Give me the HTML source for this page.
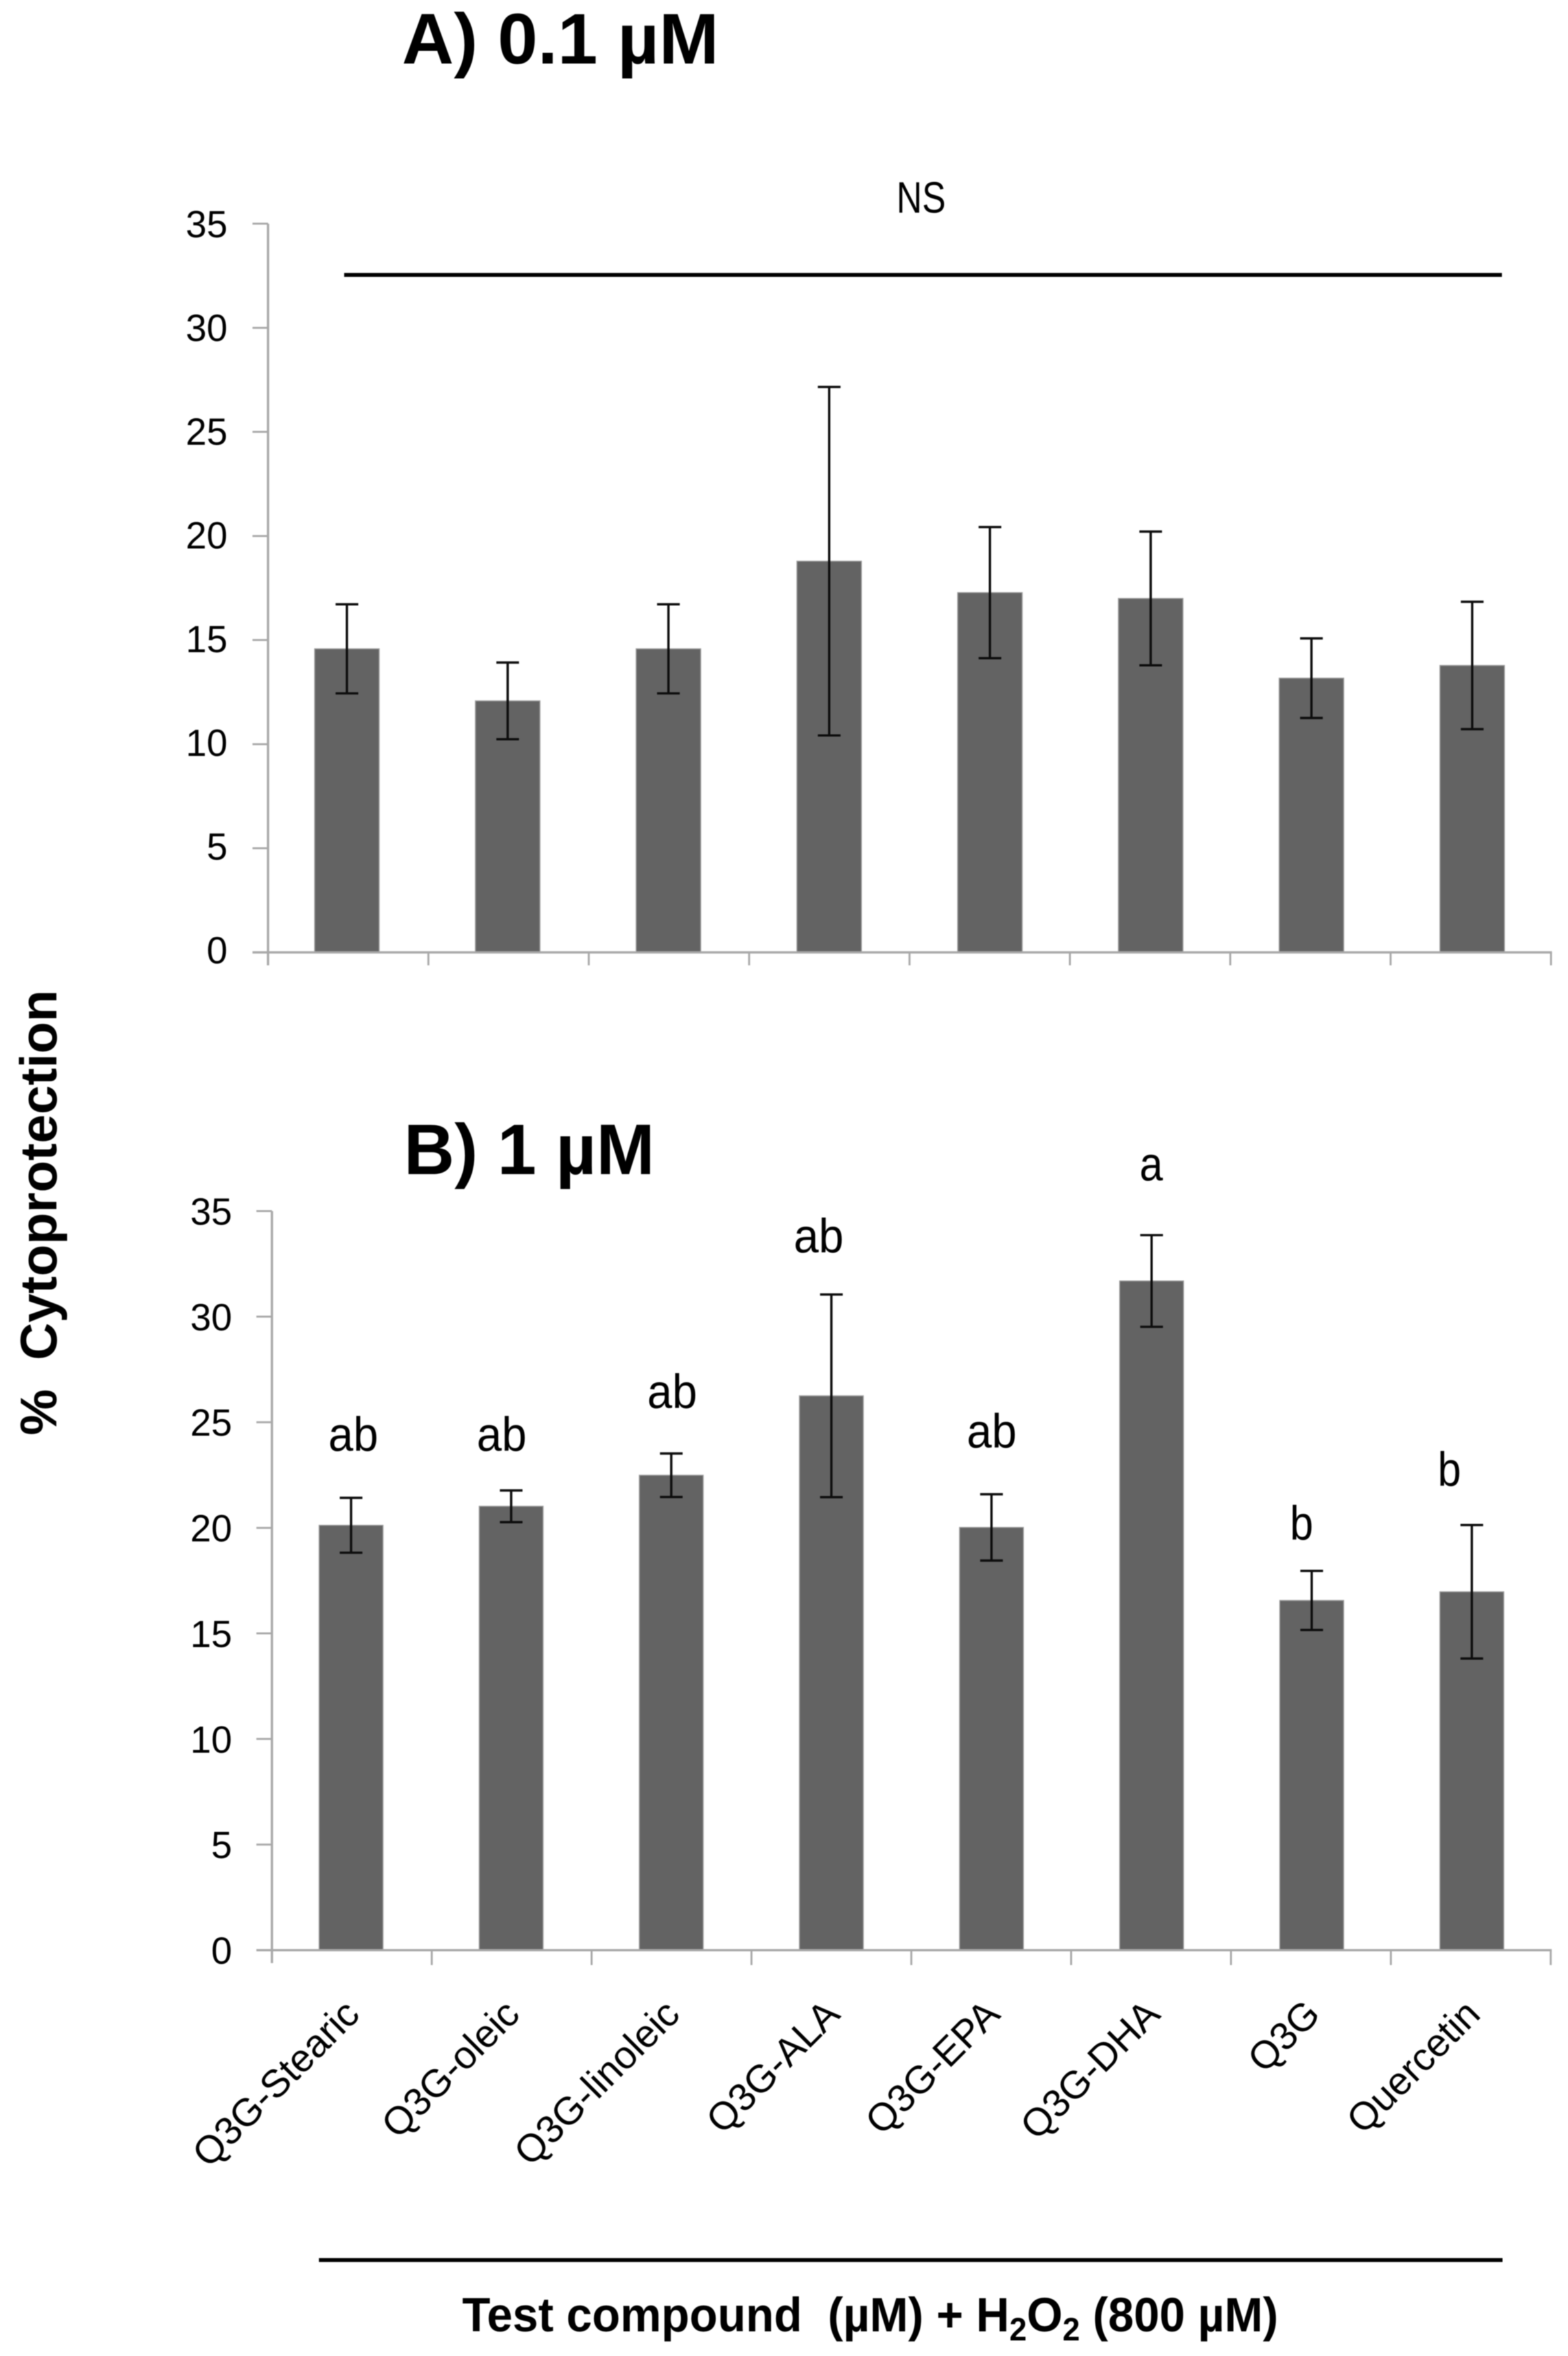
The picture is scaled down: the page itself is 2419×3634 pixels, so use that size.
<!DOCTYPE html>
<html lang="en">
<head>
<meta charset="utf-8">
<title>Cytoprotection of test compounds</title>
<style>
html,body{margin:0;padding:0;background:#fff;}
body{width:2419px;height:3634px;overflow:hidden;}
svg{display:block;filter:blur(0.7px);}
text{font-family:"Liberation Sans",sans-serif;fill:#000;}
.b{font-weight:bold;}
</style>
</head>
<body>
<svg id="figure" xmlns="http://www.w3.org/2000/svg" width="2419" height="3634" viewBox="0 0 2419 3634">
  <rect x="0" y="0" width="2419" height="3634" fill="#ffffff"/>
  <text class="b" x="620" y="98" font-size="110" textLength="489" lengthAdjust="spacingAndGlyphs">A) 0.1 µM</text>
  <text class="b" x="623" y="1811" font-size="110" textLength="387" lengthAdjust="spacingAndGlyphs">B) 1 µM</text>
  <text x="1383" y="328" font-size="68" textLength="76" lengthAdjust="spacingAndGlyphs">NS</text>
  <line x1="531" y1="424" x2="2317" y2="424" stroke="#000" stroke-width="6"/>
  <text class="b" transform="translate(87,2214) rotate(-90)" font-size="80" textLength="687" lengthAdjust="spacingAndGlyphs">%&#160;&#160;Cytoprotection</text>
  <line x1="492" y1="3486" x2="2318" y2="3486" stroke="#000" stroke-width="6"/>
  <text class="b" x="713" y="3596" font-size="74" textLength="1259" lengthAdjust="spacingAndGlyphs">Test compound&#160;&#160;(µM) + H<tspan font-size="50" dy="14">2</tspan><tspan dy="-14">O</tspan><tspan font-size="50" dy="14">2</tspan><tspan dy="-14"> (800 µM)</tspan></text>
  <g id="panelA"></g>
  <g id="panelB"></g>
  <g font-size="74">
    <text x="545" y="2238" text-anchor="middle" textLength="77" lengthAdjust="spacingAndGlyphs">ab</text>
    <text x="774" y="2238" text-anchor="middle" textLength="77" lengthAdjust="spacingAndGlyphs">ab</text>
    <text x="1037" y="2172" text-anchor="middle" textLength="77" lengthAdjust="spacingAndGlyphs">ab</text>
    <text x="1263" y="1932" text-anchor="middle" textLength="77" lengthAdjust="spacingAndGlyphs">ab</text>
    <text x="1530" y="2233" text-anchor="middle" textLength="77" lengthAdjust="spacingAndGlyphs">ab</text>
    <text x="1776" y="1821" text-anchor="middle" textLength="36" lengthAdjust="spacingAndGlyphs">a</text>
    <text x="2008" y="2375" text-anchor="middle" textLength="36" lengthAdjust="spacingAndGlyphs">b</text>
    <text x="2236" y="2292" text-anchor="middle" textLength="36" lengthAdjust="spacingAndGlyphs">b</text>
  </g>
</svg>
<script>
const categories = ['Q3G-Stearic', 'Q3G-oleic', 'Q3G-linoleic', 'Q3G-ALA', 'Q3G-EPA', 'Q3G-DHA', 'Q3G', 'Quercetin'];
const yTickLabels = [0, 5, 10, 15, 20, 25, 30, 35];
const panelAValues = [14.58, 12.08, 14.58, 18.79, 17.28, 17.0, 13.17, 13.78];
const panelAErrors = [2.14, 1.84, 2.14, 8.37, 3.15, 3.21, 1.91, 3.06];
const panelBValues = [20.12, 21.02, 22.49, 26.25, 20.02, 31.69, 16.56, 16.97];
const panelBErrors = [1.3, 0.75, 1.03, 4.8, 1.57, 2.17, 1.4, 3.16];

const SVGNS = 'http://www.w3.org/2000/svg';
const AXIS_COLOR = '#a8a8a8';
const BAR_COLOR = '#636363';
const ERR_COLOR = '#0d0d0d';
const Y_MAX = 35;

function mk(tag, parent, props) {
  const el = document.createElementNS(SVGNS, tag);
  for (const k in props) el.setAttribute(k, props[k]);
  parent.appendChild(el);
  return el;
}

function drawPanel(group, prefix, values, errors, layout) {
  const yScale = v => layout.y0 - (v / Y_MAX) * (layout.y0 - layout.yTop);
  const barCenter = i => layout.firstBar + layout.barStep * i;
  const tickX = i => layout.axisX + layout.tickStep * i;

  values.forEach((v, i) => {
    const bar = mk('rect', group, {
      x: barCenter(i) - layout.barWidth / 2,
      y: yScale(v),
      width: layout.barWidth,
      height: layout.y0 - yScale(v),
      fill: BAR_COLOR,
      stroke: '#9c9c9c',
      'stroke-width': 1.5
    });
    
    
  });

  const yAxis = mk('line', group, { x1: layout.axisX, y1: layout.yTop, x2: layout.axisX, y2: layout.y0 + 20, stroke: AXIS_COLOR, 'stroke-width': 3.5 });
  
  

  const xAxis = mk('line', group, { x1: layout.axisX - 24, y1: layout.y0, x2: tickX(categories.length) + 1.5, y2: layout.y0, stroke: AXIS_COLOR, 'stroke-width': 3.5 });
  
  

  yTickLabels.forEach(t => {
    const tick = mk('line', group, { x1: layout.axisX - 24, y1: yScale(t), x2: layout.axisX, y2: yScale(t), stroke: AXIS_COLOR, 'stroke-width': 3 });
    
    

    const label = mk('text', group, { x: layout.labelX, y: yScale(t) + layout.labelBase + (t / Y_MAX) * layout.labelDrift, 'font-size': 58, 'text-anchor': 'end' });
    
    
    label.textContent = String(t);
  });

  for (let i = 1; i <= categories.length; i++) {
    const tick = mk('line', group, { x1: tickX(i), y1: layout.y0, x2: tickX(i), y2: layout.y0 + layout.tickLen, stroke: AXIS_COLOR, 'stroke-width': 3 });
    
    
  }

  values.forEach((v, i) => {
    const cx = barCenter(i);
    const hi = yScale(v + errors[i]);
    const lo = yScale(v - errors[i]);
    const stem = mk('line', group, { x1: cx, y1: hi, x2: cx, y2: lo, stroke: ERR_COLOR, 'stroke-width': 3.6 });
    
    

    const capTop = mk('line', group, { x1: cx - 17.5, y1: hi, x2: cx + 17.5, y2: hi, stroke: ERR_COLOR, 'stroke-width': 3.6 });
    
    

    const capBottom = mk('line', group, { x1: cx - 17.5, y1: lo, x2: cx + 17.5, y2: lo, stroke: ERR_COLOR, 'stroke-width': 3.6 });
    
    
  });

  if (layout.showCategories) {
    categories.forEach((c, i) => {
      const ax = barCenter(i) + 16;
      const label = mk('text', group, { transform: 'translate(' + ax + ',3110) rotate(-45)', 'font-size': 60, 'text-anchor': 'end' });
      
      
      label.textContent = c;
    });
  }
}

drawPanel(document.getElementById('panelA'), 'panel-a', panelAValues, panelAErrors, {
  y0: 1469, yTop: 345, axisX: 413.5, tickStep: 247.4, firstBar: 535.2, barStep: 248,
  barWidth: 99.5, labelX: 351, labelBase: 17, labelDrift: 4, tickLen: 20, showCategories: false
});
drawPanel(document.getElementById('panelB'), 'panel-b', panelBValues, panelBErrors, {
  y0: 3008, yTop: 1868, axisX: 419.5, tickStep: 246.6, firstBar: 541.6, barStep: 247,
  barWidth: 98.5, labelX: 358, labelBase: 21, labelDrift: 0, tickLen: 23, showCategories: true
});
</script>
</body>
</html>
